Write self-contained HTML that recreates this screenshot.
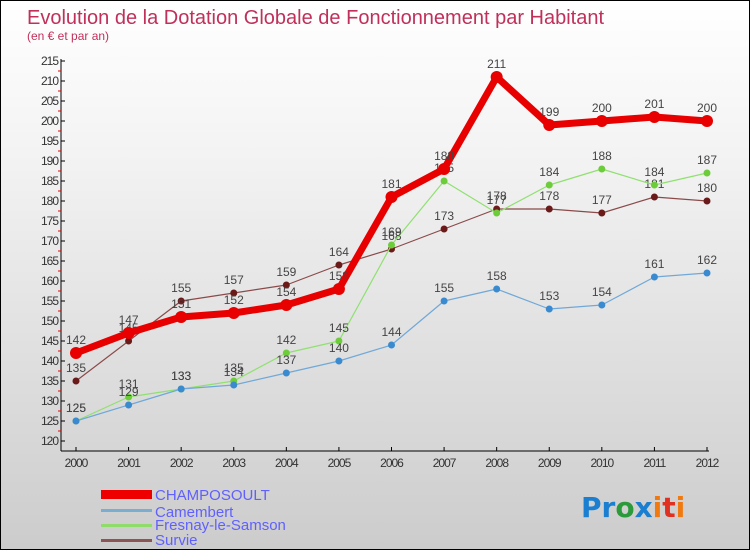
<!DOCTYPE html>
<html><head><meta charset="utf-8"><style>
body{margin:0}
#c{width:748px;height:548px;border:1px solid #000;background:linear-gradient(#fff,#f2f2f2 30%,#ccc);position:relative;overflow:hidden;font-family:"Liberation Sans",sans-serif}
</style></head><body>
<div id="c">
<svg id="s" width="748" height="548" xmlns="http://www.w3.org/2000/svg">
<text x="26" y="23" font-size="20" fill="#c0305a">Evolution de la Dotation Globale de Fonctionnement par Habitant</text>
<text x="26" y="39" font-size="12" fill="#c0305a">(en € et par an)</text>
<g id="axes"></g><g id="series"></g>
<g font-size="15" fill="#6060ff">
<rect x="100" y="489" width="51" height="9" fill="#e00"/><text x="154" y="499">CHAMPOSOULT</text>
<rect x="100" y="508" width="51" height="3" fill="#7aadd0"/><text x="154" y="516">Camembert</text>
<rect x="100" y="523" width="51" height="3" fill="#8fdc6a"/><text x="154" y="529">Fresnay-le-Samson</text>
<rect x="100" y="538" width="51" height="3" fill="#8b5555"/><text x="154" y="544">Survie</text>
</g>
<text x="580" y="516" font-size="28" font-family="'DejaVu Sans',sans-serif" font-weight="bold"><tspan fill="#1a7fd0">Pr</tspan><tspan fill="#2a9a3a">o</tspan><tspan fill="#1a7fd0">x</tspan><tspan fill="#f07a10">i</tspan><tspan fill="#e03020">t</tspan><tspan fill="#f07a10">i</tspan></text>
</svg></div>
<script>
const years=[2000,2001,2002,2003,2004,2005,2006,2007,2008,2009,2010,2011,2012];
const champ=[142,147,151,152,154,158,181,188,211,199,200,201,200];
const camembert=[125,129,133,134,137,140,144,155,158,153,154,161,162];
const fresnay=[125,131,133,135,142,145,169,185,177,184,188,184,187];
const survie=[135,145,155,157,159,164,168,173,178,178,177,181,180];
const yTicks=[120,125,130,135,140,145,150,155,160,165,170,175,180,185,190,195,200,205,210,215];
const NS="http://www.w3.org/2000/svg";
const X=i=>75+i*(706-75)/12, Y=v=>440-(v-120)*4;
function mk(t,a,p){const e=document.createElementNS(NS,t);for(const k in a)e.setAttribute(k,a[k]);p.appendChild(e);return e;}
const ax=document.getElementById('axes'),sg=document.getElementById('series');
let l=mk('line',{x1:60,y1:58,x2:60,y2:450,stroke:'#000'},ax);


l=mk('line',{x1:60,y1:450,x2:708,y2:450,stroke:'#000'},ax);


yTicks.forEach(v=>{mk('line',{x1:60,y1:Y(v),x2:64,y2:Y(v),stroke:'#000'},ax);
 if(v<215)mk('line',{x1:57,y1:Y(v+2.5),x2:60,y2:Y(v+2.5),stroke:'#e00'},ax);
 const t=mk('text',{x:57,y:Y(v)+4,'font-size':12,'text-anchor':'end',fill:'#333','letter-spacing':'-1'},ax);t.textContent=v;
 
 });
years.forEach((y,i)=>{mk('line',{x1:X(i),y1:446,x2:X(i),y2:450,stroke:'#000'},ax);
 const t=mk('text',{x:X(i),y:466,'font-size':12,'text-anchor':'middle',fill:'#333','letter-spacing':'-1'},ax);t.textContent=y;
 
 });
function draw(d,col,w,r,dot,name){
 const p=mk('polyline',{points:d.map((v,i)=>X(i)+','+Y(v)).join(' '),fill:'none',stroke:col,'stroke-width':w,'stroke-linejoin':'round'},sg);
 
 
 d.forEach((v,i)=>{const c=mk('circle',{cx:X(i),cy:Y(v),r:r,fill:dot},sg);
  
  
  const t=mk('text',{x:X(i),y:Y(v)-9,'font-size':12,'text-anchor':'middle',fill:'#444'},sg);t.textContent=v;
  
  });
}
draw(survie,'#8b4a4a',1.2,3.5,'#6b1a1a','survie');
draw(fresnay,'#90e070',1.2,3.5,'#6ccc3a','fresnay');
draw(camembert,'#70a8d8',1.2,3.5,'#3a8ad0','camembert');
draw(champ,'#e80000',7,6,'#e80000','champosoult');
</script>
</body></html>
